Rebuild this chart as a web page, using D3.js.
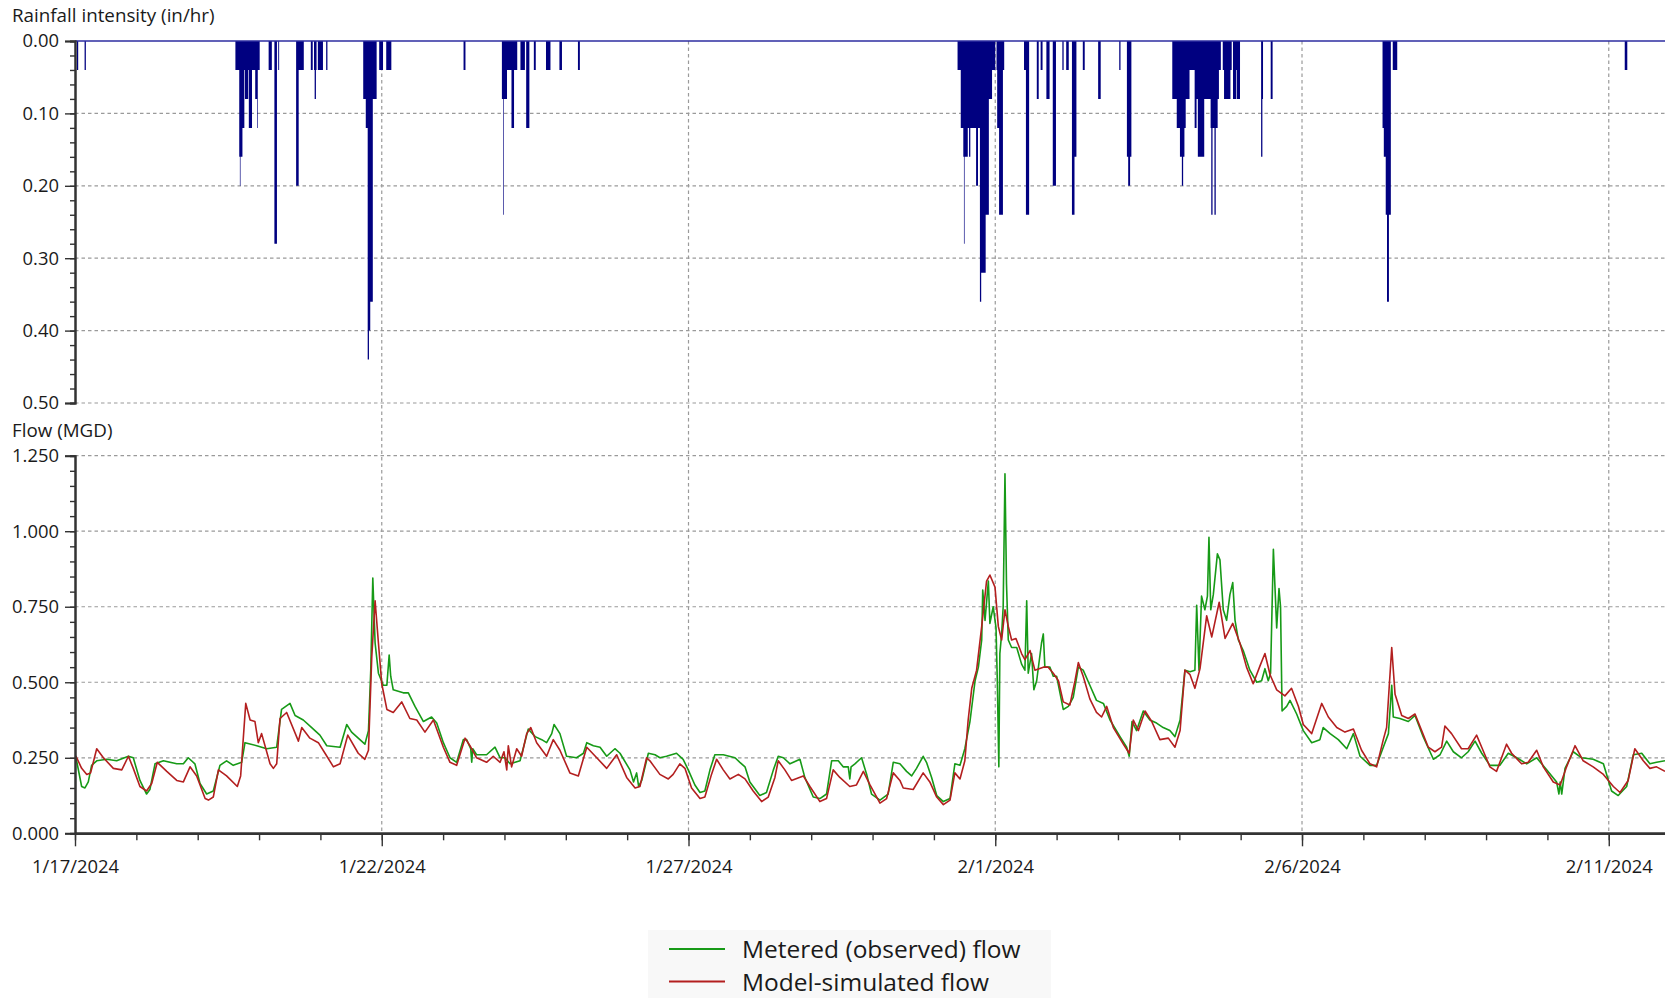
<!DOCTYPE html>
<html>
<head>
<meta charset="utf-8">
<script src="https://cdn.jsdelivr.net/npm/d3@7"></script>
<style>
  body { margin: 0; background: #ffffff; }
  text { font-family: "Open Sans", "Noto Sans", sans-serif; fill: #1a1a1a; }
</style>
</head>
<body>
<svg id="chart" width="1665" height="998"></svg>
<script>
// Time is expressed in hours after 1/17/2024 00:00.

// Rainfall: [start hour, end hour, intensity in/hr]
const rainPeriods = [
  [0.75,1.25,0.04],[3.75,4.25,0.04],
  [62.75,64.25,0.04],[64.25,64.5,0.16],[64.5,64.75,0.20],[64.75,65.5,0.16],[65.5,66.25,0.12],[66.25,66.5,0.04],
  [66.5,67.75,0.08],[67.75,68.0,0.04],[68.0,69.25,0.12],[69.25,70.5,0.04],[70.5,71.25,0.08],[71.25,71.5,0.12],
  [71.5,72.25,0.04],[75.75,77.0,0.04],[78.0,79.0,0.28],[79.5,79.75,0.04],[86.5,87.5,0.20],[87.5,89.5,0.04],
  [92.25,93.0,0.04],[93.5,93.75,0.04],[93.75,94.25,0.08],[94.25,94.5,0.04],[95.0,97.0,0.04],[98.25,98.75,0.04],
  [112.75,113.75,0.08],[113.75,114.5,0.12],[114.5,115.0,0.44],[115.0,115.5,0.40],[115.5,116.5,0.36],
  [116.5,118.0,0.08],[119.0,120.5,0.04],[121.75,123.75,0.04],
  [152.0,152.75,0.04],
  [167.0,167.5,0.08],[167.5,167.75,0.24],[167.75,169.0,0.08],[169.0,170.75,0.04],[170.75,171.75,0.12],
  [171.75,173.0,0.04],[174.25,176.0,0.04],[176.5,177.75,0.12],[179.5,180.25,0.04],[184.25,186.0,0.04],
  [189.5,190.5,0.04],[196.75,197.5,0.04],
  [345.25,346.5,0.04],[346.5,347.5,0.12],[347.5,347.75,0.16],[347.75,348.0,0.28],[348.0,349.25,0.16],
  [349.25,349.75,0.12],[349.75,350.25,0.16],[350.25,352.5,0.12],[352.5,353.25,0.20],[353.25,354.0,0.12],
  [354.0,354.5,0.36],[354.5,356.25,0.32],[356.25,357.5,0.24],[357.5,358.75,0.08],[358.75,360.0,0.04],
  [360.5,360.75,0.04],[360.75,361.5,0.12],[361.5,363.0,0.24],[363.0,363.5,0.04],
  [371.25,372.0,0.04],[372.0,373.25,0.24],[376.25,377.0,0.08],[377.75,378.5,0.04],[380.0,381.25,0.08],
  [382.5,383.75,0.20],[386.25,386.75,0.04],[387.75,388.75,0.04],[390.0,391.0,0.24],[391.0,391.75,0.16],
  [394.25,395.0,0.04],[400.25,401.25,0.08],[408.5,409.0,0.04],[411.5,412.0,0.16],[412.0,412.75,0.20],
  [412.75,413.25,0.16],
  [429.25,431.0,0.08],[431.0,432.25,0.12],[432.25,433.0,0.16],[433.0,433.5,0.20],[433.5,434.0,0.16],
  [434.0,434.5,0.12],[434.5,436.0,0.08],[436.0,438.0,0.04],[438.0,438.75,0.12],[438.75,439.25,0.08],
  [439.25,441.75,0.16],[441.75,444.25,0.08],[444.25,444.5,0.12],[444.5,445.0,0.24],[445.0,445.75,0.12],
  [445.75,446.25,0.24],[446.25,447.0,0.12],[447.0,447.5,0.08],[447.5,448.25,0.04],
  [449.0,449.5,0.04],[449.5,452.0,0.08],[452.0,452.5,0.04],[453.0,454.25,0.08],[454.25,454.5,0.04],
  [454.5,455.75,0.08],[464.0,464.5,0.16],[464.5,464.75,0.08],[467.75,468.5,0.08],
  [511.5,512.0,0.12],[512.0,512.75,0.16],[512.75,513.25,0.24],[513.25,514.0,0.36],[514.0,514.75,0.24],
  [515.5,517.25,0.04],
  [606.25,607.25,0.04]
];

// Metered (observed) flow, MGD: [hour, value]
const meteredFlow = [
  [0,0.25],[0.4,0.25],[2.6,0.155],[3.9,0.15],[5.2,0.17],[6.5,0.225],[8.5,0.24],[12.4,0.245],[16.3,0.24],
  [20.9,0.255],[22.8,0.25],[25.4,0.175],[28.0,0.13],[29.3,0.145],[31.3,0.23],[34.6,0.24],[39.8,0.23],
  [42.4,0.23],[44.3,0.25],[46.9,0.23],[48.9,0.165],[51.5,0.13],[54.1,0.14],[56.7,0.225],[59.3,0.24],
  [61.9,0.225],[65.2,0.235],[66.5,0.30],[71.1,0.29],[75.0,0.28],[78.9,0.285],[80.8,0.41],[84.1,0.43],
  [86.1,0.39],[89.3,0.375],[92.6,0.35],[95.8,0.325],[98.5,0.29],[103.7,0.285],[106.3,0.36],[108.2,0.335],
  [110.8,0.315],[113.4,0.295],[114.8,0.34],[115.7,0.54],[116.5,0.845],[117.4,0.63],[118.7,0.53],
  [120.6,0.49],[122.0,0.49],[122.9,0.59],[123.5,0.52],[124.5,0.475],[128.4,0.465],[130.4,0.465],
  [133.0,0.42],[136.3,0.37],[139.5,0.385],[141.5,0.365],[144.1,0.30],[146.7,0.25],[149.3,0.235],
  [151.9,0.31],[153.2,0.31],[154.8,0.28],[155.2,0.235],[155.6,0.28],[157.1,0.26],[161.0,0.26],
  [164.3,0.285],[166.3,0.25],[168.2,0.25],[170.2,0.23],[174.1,0.24],[177.3,0.345],[180.0,0.32],
  [182.6,0.31],[184.5,0.30],[186.5,0.33],[187.4,0.36],[189.7,0.33],[192.3,0.255],[196.2,0.25],
  [198.9,0.265],[200.2,0.30],[202.8,0.29],[205.4,0.285],[208.0,0.255],[211.2,0.28],[213.2,0.265],
  [217.1,0.21],[218.5,0.17],[219.7,0.20],[220.5,0.155],[221.7,0.175],[224.3,0.265],[226.9,0.26],
  [228.8,0.25],[231.4,0.255],[235.3,0.265],[237.9,0.245],[239.9,0.21],[242.5,0.16],[244.5,0.135],
  [246.4,0.14],[248.4,0.21],[250.3,0.26],[253.6,0.26],[258.2,0.25],[260.1,0.235],[262.1,0.22],
  [264.0,0.17],[267.9,0.125],[270.5,0.135],[273.2,0.21],[275.1,0.255],[277.1,0.25],[279.7,0.23],
  [283.6,0.245],[285.5,0.185],[288.8,0.12],[291.4,0.115],[294.0,0.13],[296.0,0.24],[298.6,0.24],
  [300.5,0.22],[302.5,0.22],[303.1,0.18],[303.6,0.22],[305.1,0.23],[307.7,0.25],[309.7,0.195],
  [311.6,0.13],[314.9,0.11],[318.1,0.13],[320.1,0.235],[322.7,0.23],[325.3,0.205],[327.3,0.19],
  [329.2,0.215],[331.8,0.255],[333.1,0.235],[335.1,0.185],[337.1,0.125],[339.7,0.105],[342.3,0.115],
  [344.2,0.23],[346.2,0.225],[348.1,0.28],[350.1,0.37],[352.1,0.505],[353.4,0.55],[354.7,0.64],
  [355.1,0.805],[356.0,0.705],[357.3,0.835],[357.9,0.695],[359.2,0.75],[360.3,0.68],[360.8,0.505],
  [361.4,0.22],[361.8,0.595],[362.5,0.66],[363.1,0.75],[363.8,1.19],[364.4,0.825],[365.1,0.64],
  [366.4,0.615],[368.4,0.615],[370.3,0.56],[371.6,0.54],[372.3,0.77],[372.9,0.53],[374.2,0.595],
  [375.1,0.475],[376.2,0.505],[378.1,0.63],[378.8,0.66],[379.4,0.55],[381.4,0.55],[382.7,0.52],
  [384.0,0.52],[386.6,0.41],[388.6,0.42],[390.5,0.45],[392.5,0.55],[394.4,0.54],[397.0,0.49],
  [399.6,0.44],[402.3,0.43],[404.9,0.375],[408.8,0.32],[411.4,0.285],[412.4,0.255],[413.5,0.37],
  [415.3,0.34],[417.9,0.405],[420.5,0.375],[423.1,0.365],[425.7,0.35],[428.3,0.34],[430.3,0.32],
  [432.3,0.375],[434.2,0.54],[436.2,0.535],[438.1,0.54],[438.8,0.755],[439.7,0.54],[440.7,0.785],
  [442.0,0.74],[443.0,0.785],[443.6,0.98],[444.3,0.74],[445.3,0.79],[446.9,0.925],[447.9,0.905],
  [449.2,0.74],[450.5,0.705],[451.8,0.79],[452.9,0.83],[453.8,0.705],[455.1,0.64],[457.0,0.605],
  [459.6,0.54],[462.3,0.50],[464.2,0.505],[465.5,0.545],[466.8,0.505],[467.7,0.53],[468.8,0.94],
  [470.1,0.68],[471.0,0.81],[471.6,0.75],[472.2,0.405],[474.0,0.42],[475.3,0.44],[477.9,0.395],
  [480.5,0.34],[483.8,0.30],[487.0,0.31],[488.3,0.35],[491.0,0.33],[494.2,0.31],[497.5,0.28],
  [500.1,0.33],[502.7,0.255],[506.6,0.225],[509.2,0.225],[511.8,0.285],[513.8,0.33],[515.1,0.49],
  [515.7,0.385],[518.3,0.38],[521.6,0.37],[524.2,0.39],[527.4,0.32],[531.4,0.245],[534.0,0.26],
  [536.6,0.305],[539.2,0.27],[542.4,0.25],[545.0,0.27],[547.7,0.305],[550.3,0.265],[553.5,0.225],
  [557.4,0.225],[560.7,0.265],[564.0,0.25],[567.9,0.23],[571.8,0.25],[575.7,0.21],[579.6,0.17],
  [580.5,0.13],[581.0,0.17],[581.6,0.13],[582.9,0.215],[586.1,0.27],[589.4,0.25],[593.9,0.245],
  [597.9,0.23],[601.1,0.14],[603.7,0.125],[607.0,0.155],[609.6,0.26],[612.9,0.265],[616.1,0.23],
  [618.7,0.235],[622.0,0.24]
];

// Model-simulated flow, MGD: [hour, value]
const simulatedFlow = [
  [0,0.255],[0.4,0.255],[2.6,0.215],[4.6,0.195],[6.1,0.20],[8.5,0.28],[11.1,0.25],[15.0,0.215],[18.3,0.21],
  [20.9,0.255],[22.8,0.215],[25.4,0.155],[28.0,0.14],[30.0,0.165],[32.2,0.235],[35.9,0.205],[39.8,0.175],
  [42.4,0.17],[45.0,0.22],[47.6,0.19],[50.9,0.115],[52.2,0.11],[54.1,0.12],[56.1,0.21],[59.3,0.19],
  [63.5,0.155],[64.8,0.19],[66.8,0.43],[68.5,0.375],[70.4,0.37],[71.7,0.30],[73.0,0.33],[76.3,0.23],
  [77.6,0.215],[78.9,0.23],[80.2,0.38],[82.8,0.40],[87.4,0.305],[88.7,0.35],[91.9,0.315],[95.2,0.30],
  [97.8,0.265],[101.1,0.22],[103.7,0.23],[106.7,0.325],[110.8,0.265],[113.4,0.245],[114.8,0.275],
  [116.1,0.585],[117.4,0.77],[118.7,0.63],[120.0,0.495],[122.0,0.41],[124.5,0.40],[127.8,0.435],
  [131.0,0.38],[133.7,0.375],[136.9,0.335],[140.2,0.375],[144.1,0.285],[146.7,0.235],[149.3,0.225],
  [152.6,0.315],[154.5,0.29],[157.1,0.25],[161.0,0.235],[163.6,0.255],[166.3,0.235],[167.8,0.27],
  [168.9,0.21],[169.5,0.29],[170.8,0.22],[172.8,0.28],[174.7,0.255],[176.7,0.33],[178.3,0.35],
  [180.6,0.30],[184.5,0.255],[187.1,0.31],[189.7,0.275],[193.6,0.20],[196.9,0.19],[200.2,0.285],
  [204.1,0.25],[208.0,0.215],[211.9,0.26],[215.8,0.185],[219.1,0.15],[221.0,0.155],[223.6,0.25],
  [224.9,0.24],[228.8,0.195],[232.1,0.18],[234.0,0.195],[236.6,0.23],[238.6,0.215],[241.2,0.15],
  [244.5,0.115],[246.4,0.12],[249.0,0.195],[251.0,0.245],[253.6,0.21],[256.2,0.18],[259.5,0.195],
  [262.1,0.18],[265.3,0.14],[268.6,0.105],[271.2,0.12],[273.8,0.185],[275.1,0.24],[277.7,0.21],
  [280.3,0.175],[284.9,0.19],[287.5,0.155],[291.4,0.105],[294.0,0.115],[296.6,0.21],[299.2,0.185],
  [303.1,0.155],[305.7,0.16],[308.4,0.205],[311.0,0.16],[314.9,0.10],[317.5,0.115],[320.1,0.20],
  [322.7,0.175],[324.0,0.15],[327.9,0.145],[331.8,0.20],[334.4,0.17],[337.1,0.12],[339.7,0.095],
  [342.3,0.11],[344.2,0.20],[346.2,0.18],[348.1,0.24],[349.4,0.375],[350.8,0.48],[352.7,0.54],
  [354.7,0.685],[356.6,0.835],[357.9,0.855],[359.9,0.815],[361.2,0.685],[362.5,0.64],[363.8,0.74],
  [365.1,0.685],[366.4,0.64],[368.1,0.645],[370.3,0.595],[371.6,0.575],[373.6,0.605],[375.5,0.54],
  [378.8,0.55],[380.7,0.55],[382.7,0.53],[384.7,0.505],[386.6,0.435],[389.2,0.425],[391.2,0.505],
  [392.5,0.565],[394.4,0.52],[397.0,0.445],[399.6,0.40],[401.6,0.385],[403.6,0.42],[406.2,0.35],
  [410.1,0.295],[412.4,0.265],[414.0,0.375],[416.0,0.34],[418.6,0.405],[421.2,0.37],[424.4,0.31],
  [427.7,0.315],[430.3,0.285],[432.3,0.34],[434.2,0.54],[436.2,0.525],[438.1,0.48],[440.1,0.545],
  [442.7,0.72],[444.7,0.65],[447.6,0.765],[449.9,0.645],[452.9,0.695],[455.7,0.63],[458.3,0.55],
  [460.9,0.495],[463.6,0.555],[465.5,0.595],[467.5,0.525],[470.1,0.475],[473.3,0.455],[475.9,0.48],
  [478.6,0.42],[480.5,0.36],[483.8,0.33],[487.7,0.43],[490.3,0.385],[493.6,0.35],[496.8,0.335],
  [500.1,0.345],[503.3,0.275],[506.6,0.23],[509.2,0.22],[511.8,0.31],[513.1,0.35],[515.1,0.615],
  [516.4,0.46],[519.0,0.39],[521.6,0.38],[524.2,0.395],[526.8,0.34],[529.4,0.285],[532.0,0.27],
  [534.6,0.285],[535.9,0.355],[538.5,0.33],[542.4,0.28],[545.0,0.28],[548.3,0.325],[550.3,0.285],
  [553.5,0.22],[556.1,0.205],[560.0,0.295],[562.0,0.265],[565.9,0.23],[568.5,0.235],[571.8,0.275],
  [574.4,0.22],[578.3,0.17],[581.0,0.16],[583.5,0.22],[586.8,0.29],[590.0,0.24],[593.9,0.22],
  [597.9,0.195],[601.8,0.155],[604.4,0.135],[607.6,0.175],[610.2,0.28],[613.5,0.24],[616.1,0.215],
  [618.7,0.22],[622.0,0.205]
];

const dateTicks = ["2024-01-17","2024-01-22","2024-01-27","2024-02-01","2024-02-06","2024-02-11"];
const rainTicks = [0, 0.1, 0.2, 0.3, 0.4, 0.5];
const flowTicks = [0, 0.25, 0.5, 0.75, 1.0, 1.25];
const seriesNames = ["Metered (observed) flow", "Model-simulated flow"];
const seriesColors = ["#179a17", "#b31f1f"];
const lastHour = 622;

// ---- layout ----
const svg = d3.select("#chart");
const left = 75, right = 1665;
const rainTop = 41, rainBottom = 403;
const flowTop = 455.7, flowBottom = 833.3;
const tickFont = 18.4;

const t0 = new Date(2024, 0, 17);
const at = h => new Date(t0.getTime() + h * 3600000);
const parseDay = s => { const [y, m, d] = s.split("-").map(Number); return new Date(y, m - 1, d); };

const x = d3.scaleTime().domain([t0, at(lastHour)]).range([left, right]);
const yRain = d3.scaleLinear().domain([0, 0.5]).range([rainTop, rainBottom]);
const yFlow = d3.scaleLinear().domain([0, 1.25]).range([flowBottom, flowTop]);

svg.append("rect").attr("width", 1665).attr("height", 998).attr("fill", "#ffffff");

svg.append("defs").append("clipPath").attr("id", "plotClip")
  .append("rect").attr("x", left).attr("y", 0).attr("width", right - left).attr("height", 998);

const gridColor = "#9a9a9a";
const dash = "3.5,3";
const majorDates = dateTicks.map(parseDay);

// vertical grid lines through both panels
svg.append("g").selectAll("line")
  .data(majorDates.slice(1))
  .join("line")
  .attr("x1", d => x(d)).attr("x2", d => x(d))
  .attr("y1", rainTop).attr("y2", flowBottom)
  .attr("stroke", gridColor).attr("stroke-width", 1.2).attr("stroke-dasharray", dash);

// horizontal grid lines
svg.append("g").selectAll("line")
  .data(rainTicks.slice(1))
  .join("line")
  .attr("x1", left).attr("x2", right)
  .attr("y1", d => yRain(d)).attr("y2", d => yRain(d))
  .attr("stroke", gridColor).attr("stroke-width", 1.2).attr("stroke-dasharray", dash);

svg.append("g").selectAll("line")
  .data(flowTicks.slice(1))
  .join("line")
  .attr("x1", left).attr("x2", right)
  .attr("y1", d => yFlow(d)).attr("y2", d => yFlow(d))
  .attr("stroke", gridColor).attr("stroke-width", 1.2).attr("stroke-dasharray", dash);

// ---- rainfall hyetograph: hanging step bars, contiguous periods joined into one outline ----
const runs = [];
rainPeriods.forEach(p => {
  const last = runs[runs.length - 1];
  if (last && Math.abs(last[last.length - 1][1] - p[0]) < 1e-9) last.push(p);
  else runs.push([p]);
});
const rainPath = d3.path();
const base = yRain(0);
runs.forEach(run => {
  const xs = run[0][0], xe = run[run.length - 1][1];
  rainPath.moveTo(x(at(xs)), base);
  run.forEach(([s, e, v]) => {
    let x0 = x(at(s)), x1 = x(at(e));
    if (run.length === 1 && x1 - x0 < 0.9) x1 = x0 + 0.9;
    rainPath.lineTo(x0, yRain(v));
    rainPath.lineTo(x1, yRain(v));
  });
  const endX = run.length === 1 ? Math.max(x(at(xe)), x(at(xs)) + 0.9) : x(at(xe));
  rainPath.lineTo(endX, base);
  rainPath.closePath();
});
svg.append("path")
  .attr("clip-path", "url(#plotClip)")
  .attr("d", rainPath.toString())
  .attr("fill", "#000080");

svg.append("line")
  .attr("x1", left).attr("x2", right)
  .attr("y1", base).attr("y2", base)
  .attr("stroke", "#2d2da0").attr("stroke-width", 1.4);

// ---- flow lines ----
const line = d3.line().x(d => x(at(d[0]))).y(d => yFlow(d[1]));
const flowG = svg.append("g").attr("clip-path", "url(#plotClip)");
[meteredFlow, simulatedFlow].forEach((series, i) => {
  flowG.append("path")
    .datum(series)
    .attr("d", line)
    .attr("fill", "none")
    .attr("stroke", seriesColors[i])
    .attr("stroke-width", 1.6)
    .attr("stroke-linejoin", "round");
});

// ---- axes ----
function styleAxis(g, width) {
  g.select(".domain").attr("stroke", "#333").attr("stroke-width", width);
  g.selectAll(".tick line").attr("stroke", "#333").attr("stroke-width", 1.4);
  g.selectAll("text").attr("font-size", tickFont).attr("fill", "#1a1a1a")
    .attr("font-family", '"Open Sans", "Noto Sans", sans-serif');
}

const rainMinor = d3.range(0, 0.5001, 0.02);
svg.append("g").attr("transform", `translate(${left},0)`)
  .call(d3.axisLeft(yRain).tickValues(rainMinor).tickSize(5).tickFormat(""))
  .call(g => styleAxis(g, 2));
svg.append("g").attr("transform", `translate(${left},0)`)
  .call(d3.axisLeft(yRain).tickValues(rainTicks).tickSize(10).tickPadding(6).tickFormat(d3.format(".2f")))
  .call(g => styleAxis(g, 2));

const flowMinor = d3.range(0, 1.2501, 0.05);
svg.append("g").attr("transform", `translate(${left},0)`)
  .call(d3.axisLeft(yFlow).tickValues(flowMinor).tickSize(5).tickFormat(""))
  .call(g => styleAxis(g, 2));
svg.append("g").attr("transform", `translate(${left},0)`)
  .call(d3.axisLeft(yFlow).tickValues(flowTicks).tickSize(10).tickPadding(6).tickFormat(d3.format(".3f")))
  .call(g => styleAxis(g, 2));

const dayTicks = d3.timeDay.range(t0, at(lastHour));
svg.append("g").attr("transform", `translate(0,${flowBottom})`)
  .call(d3.axisBottom(x).tickValues(dayTicks).tickSize(7).tickFormat("").tickSizeOuter(0))
  .call(g => styleAxis(g, 2.6));
svg.append("g").attr("transform", `translate(0,${flowBottom})`)
  .call(d3.axisBottom(x).tickValues(majorDates).tickSize(13).tickPadding(14)
        .tickFormat(d3.timeFormat("%-m/%-d/%Y")).tickSizeOuter(0))
  .call(g => styleAxis(g, 2.6));

// ---- panel titles ----
svg.append("text").attr("x", 12).attr("y", 22).attr("font-size", 18.8).text("Rainfall intensity (in/hr)");
svg.append("text").attr("x", 12).attr("y", 437).attr("font-size", 18.8).text("Flow (MGD)");

// ---- legend ----
const legend = svg.append("g");
legend.append("rect").attr("x", 648).attr("y", 930).attr("width", 403).attr("height", 68).attr("fill", "#f8f8f8");
seriesNames.forEach((name, i) => {
  const cy = 949 + i * 32.5;
  legend.append("line").attr("x1", 669).attr("x2", 725).attr("y1", cy).attr("y2", cy)
    .attr("stroke", seriesColors[i]).attr("stroke-width", 2);
  legend.append("text").attr("x", 742).attr("y", cy + 9).attr("font-size", 24.5).text(name);
});
</script>
</body>
</html>
